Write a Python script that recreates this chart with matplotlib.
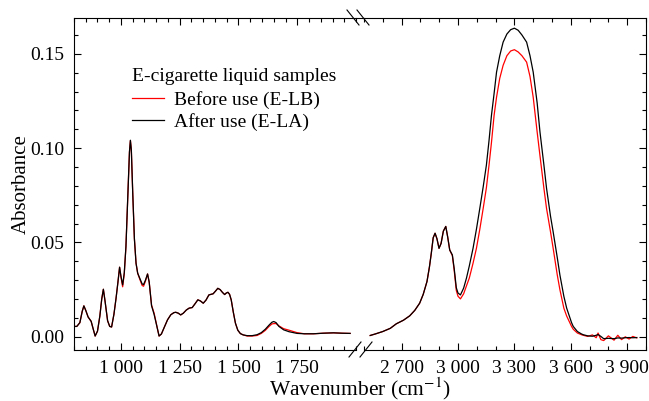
import numpy as np
import matplotlib
matplotlib.use('Agg')
import matplotlib.pyplot as plt
from matplotlib.ticker import MultipleLocator, FixedLocator, FuncFormatter
from matplotlib.lines import Line2D

plt.rcParams['font.family'] = ['Liberation Serif', 'DejaVu Serif']
plt.rcParams['mathtext.fontset'] = 'stix'
plt.rcParams['font.size'] = 14

# fingerprint region (left panel)
wn_low = [800, 812, 825, 835, 842, 850, 860, 873, 882, 890, 900, 910, 918, 925, 932, 943,
          952, 960, 970, 979, 987, 994, 1000, 1007, 1014, 1021, 1030, 1036, 1040, 1044, 1050,
          1057, 1064, 1071, 1080, 1090, 1096, 1104, 1113, 1120, 1130, 1141, 1150, 1162, 1172,
          1184, 1198, 1212, 1225, 1233, 1244, 1254, 1265, 1278, 1290, 1303, 1315, 1327, 1338,
          1350, 1362, 1374, 1392, 1402, 1412, 1422, 1432, 1441, 1448, 1455, 1462, 1469, 1478,
          1487, 1497, 1508, 1520, 1537, 1558, 1579, 1597, 1614, 1630, 1642, 1650, 1660, 1672,
          1692, 1715, 1749, 1780, 1819, 1860, 1904, 1940, 1975]
after_low = [.0055, .0055, .0075, .0135, .0164, .0140, .0105, .0082, .0040, .0004, .0030, .0110,
             .0200, .0252, .0190, .0085, .0055, .0052, .0120, .0205, .0290, .0369, .0320, .0275,
             .0340, .0478, .0780, .0980, .1042, .0990, .0760, .0520, .0390, .0337, .0310, .0280,
             .0277, .0300, .0333, .0290, .0165, .0118, .0070, .0004, .0015, .0050, .0090, .0117,
             .0128, .0130, .0125, .0116, .0125, .0142, .0152, .0155, .0175, .0196, .0190, .0178,
             .0195, .0222, .0228, .0242, .0257, .0250, .0235, .0224, .0232, .0236, .0225, .0196,
             .0130, .0072, .0035, .0017, .0010, .0006, .0006, .0011, .0022, .0040, .0062, .0077,
             .0081, .0075, .0055, .0037, .0027, .0018, .0016, .0016, .0019, .0021, .0019, .0018]
before_low = [.0055, .0055, .0075, .0135, .0164, .0140, .0105, .0082, .0040, .0004, .0030, .0110,
              .0200, .0252, .0190, .0085, .0055, .0052, .0120, .0205, .0290, .0369, .0315, .0265,
              .0335, .0478, .0780, .0980, .1040, .0990, .0760, .0520, .0390, .0337, .0305, .0272,
              .0268, .0295, .0333, .0290, .0168, .0125, .0072, .0004, .0015, .0050, .0090, .0117,
              .0128, .0130, .0125, .0116, .0125, .0142, .0152, .0155, .0175, .0196, .0190, .0178,
              .0195, .0222, .0228, .0242, .0257, .0250, .0235, .0224, .0232, .0236, .0225, .0196,
              .0130, .0072, .0035, .0017, .0010, .0004, .0004, .0007, .0018, .0034, .0055, .0068,
              .0070, .0070, .0058, .0043, .0035, .0022, .0016, .0016, .0019, .0021, .0019, .0018]

# high wavenumber region (right panel)
wn_high = [2533, 2560, 2600, 2640, 2672, 2710, 2743, 2770, 2796, 2815, 2835, 2848, 2858, 2868,
           2878, 2888, 2899, 2910, 2922, 2935, 2945, 2956, 2970, 2980, 2991, 3000, 3013, 3030,
           3045, 3060, 3080, 3098, 3116, 3134, 3151, 3165, 3178, 3192, 3205, 3222, 3240, 3260,
           3280, 3300, 3320, 3340, 3365, 3383, 3400, 3421, 3436, 3457, 3471, 3492, 3506, 3528,
           3542, 3563, 3578, 3604, 3613, 3635, 3657, 3666, 3690, 3715, 3735, 3745, 3760, 3775,
           3800, 3830, 3850, 3870, 3890, 3910, 3930, 3951]
after_high = [.0007, .0015, .0028, .0045, .0069, .0088, .0111, .0140, .0178, .0225, .0293, .0370,
              .0443, .0525, .0549, .0520, .0469, .0495, .0560, .0585, .0530, .0460, .0434, .0360,
              .0260, .0232, .0222, .0258, .0311, .0375, .0469, .0570, .0681, .0795, .0910, .1040,
              .1174, .1290, .1403, .1490, .1562, .1605, .1628, .1636, .1625, .1600, .1562, .1490,
              .1403, .1240, .1086, .0910, .0787, .0640, .0557, .0420, .0328, .0215, .0152, .0075,
              .0055, .0028, .0015, .0011, .0005, .0003, .0008, .0012, .0002, -.0010, -.0008,
              -.0010, -.0006, -.0007, -.0005, -.0004, -.0005, -.0004]
before_high = [.0007, .0015, .0028, .0045, .0069, .0088, .0111, .0140, .0178, .0225, .0293, .0370,
               .0443, .0525, .0549, .0520, .0469, .0495, .0560, .0585, .0530, .0460, .0430, .0350,
               .0245, .0215, .0201, .0228, .0270, .0311, .0390, .0469, .0570, .0681, .0790, .0910,
               .1030, .1174, .1270, .1370, .1439, .1490, .1515, .1522, .1510, .1490, .1456, .1380,
               .1270, .1086, .0960, .0787, .0680, .0557, .0470, .0328, .0250, .0152, .0110, .0055,
               .0040, .0020, .0011, .0008, .0002, .0010, -.0005, .0020, -.0015, -.0020, .0005,
               -.0018, .0008, -.0015, .0000, -.0012, .0002, -.0006]

low_ticks = [1000, 1250, 1500, 1750]
high_ticks = [2700, 3000, 3300, 3600, 3900]

W, H = 649, 401
fig = plt.figure(figsize=(W / 100, H / 100), dpi=100)
ax1 = fig.add_axes([74 / W, 1 - 350 / H, 282 / W, 332 / H])
ax2 = fig.add_axes([364 / W, 1 - 350 / H, 282 / W, 332 / H])

for ax, wn, b, a in [(ax1, wn_low, before_low, after_low), (ax2, wn_high, before_high, after_high)]:
    ax.plot(wn, b, color='#ff0000', lw=0.9, label='Before use (E-LB)')
    ax.plot(wn, a, color='black', lw=0.9, label='After use (E-LA)')
    ax.set_ylim(-0.007, 0.169)
    ax.yaxis.set_major_locator(MultipleLocator(0.05))
    ax.yaxis.set_minor_locator(MultipleLocator(0.01))
    ax.tick_params(which='both', direction='in', top=True, width=0.8)
    ax.tick_params(which='major', length=5, pad=7, labelsize=14)
    ax.tick_params(which='minor', length=3)
    ax.xaxis.set_major_formatter(FuncFormatter(lambda v, p: f'{int(v):,}'.replace(',', ' ')))
    for s in ax.spines.values():
        s.set_linewidth(0.8)

ax1.set_xlim(800, 2000)
ax1.xaxis.set_major_locator(FixedLocator(low_ticks))
ax1.xaxis.set_minor_locator(MultipleLocator(50))
ax1.spines['right'].set_visible(False)
ax1.tick_params(which='both', right=False)
ax1.yaxis.set_major_formatter(FuncFormatter(lambda v, p: f'{v:.2f}'))

ax2.set_xlim(2500, 4000)
ax2.xaxis.set_major_locator(FixedLocator(high_ticks))
ax2.xaxis.set_minor_locator(MultipleLocator(100))
ax2.spines['left'].set_visible(False)
ax2.tick_params(which='both', left=False, right=True, labelleft=False)

# top spine across the gap and break marks
def px(x, y):
    return x / W, 1 - y / H

fig.add_artist(Line2D(*zip(px(356, 18), px(364, 18)), transform=fig.transFigure, color='black', lw=0.8))
for x0 in (347, 357):
    fig.add_artist(Line2D(*zip(px(x0, 10), px(x0 + 12, 25)), transform=fig.transFigure, color='black', lw=0.8))
for x0 in (349, 360):
    fig.add_artist(Line2D(*zip(px(x0, 357), px(x0 + 12, 342)), transform=fig.transFigure, color='black', lw=0.8))

fig.text(21 / W, 1 - 184 / H, 'Absorbance', rotation=90, ha='center', va='center', fontsize=15)
fig.text(360 / W, 1 - 389 / H, 'Wavenumber (cm$^{-1}$)', ha='center', va='center', fontsize=15.5)

leg = ax1.legend(loc='upper left', bbox_to_anchor=(0.205, 0.848), frameon=False,
                 title='E-cigarette liquid samples', title_fontsize=14, fontsize=14,
                 alignment='left', handlelength=1.65, handletextpad=0.5,
                 borderpad=0, borderaxespad=0, labelspacing=0.22)
leg._legend_box.sep = 4

fig.savefig('out.png', dpi=100)
